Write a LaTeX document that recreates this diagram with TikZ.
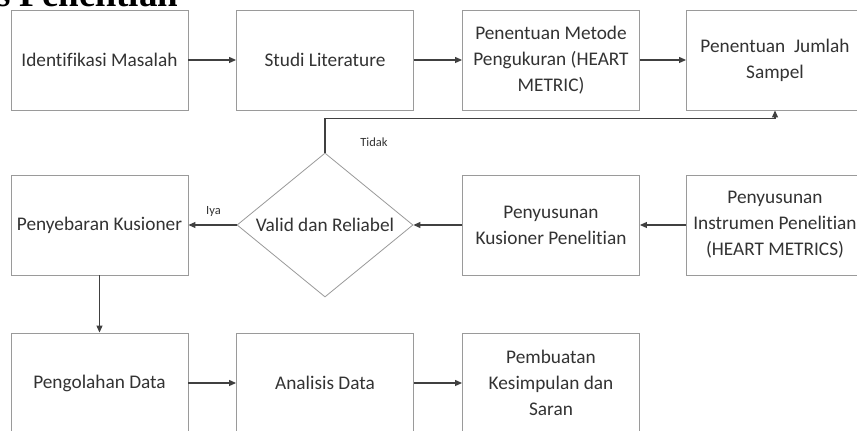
\documentclass[tikz,border=0pt]{standalone}
\usepackage{fontspec}
\setmainfont{Carlito}[Ligatures=NoCommon]
\newfontfamily\titlefont{Liberation Serif}
\usepackage{tikz}
\usetikzlibrary{shapes.geometric,arrows.meta,positioning}

\definecolor{boxline}{HTML}{9A9A9A}
\definecolor{wire}{HTML}{404040}
\definecolor{ink}{HTML}{333333}

\begin{document}
\begin{tikzpicture}[x=1pt,y=1pt,
	stepbox/.style={draw=boxline,fill=white,line width=0.9pt,minimum width=177pt,minimum height=100pt,
		align=center,text=ink,inner sep=0pt,font=\fontsize{19.3}{26}\selectfont},
	check/.style={diamond,draw=boxline,fill=white,line width=0.8pt,minimum width=176pt,minimum height=144pt,
		aspect=1.22,inner sep=0pt,text=ink,font=\fontsize{19.3}{26}\selectfont},
	flow/.style={draw=wire,line width=1.1pt,-{Triangle[length=7pt,width=6pt]}},
	answer/.style={text=ink,inner sep=0pt,font=\fontsize{12.5}{14}\selectfont}]
\useasboundingbox (0,0) rectangle (857,431);
\clip (0,0) rectangle (857,431);
\fill[white] (0,0) rectangle (857,431); % page

\node[anchor=base west,inner sep=0pt,font=\titlefont\bfseries\fontsize{37}{42}\selectfont] (judul) at (-4,424) {s Penelitian}; % cut heading

% first row
\node[stepbox] (identifikasi) at (99.5,371) {Identifikasi Masalah};
\node[stepbox] (studi) at (325,371) {Studi Literature};
\node[stepbox] (metode) at (551,371) {Penentuan Metode\\Pengukuran (HEART\\METRIC)};
\node[stepbox] (jumlah) at (775,371) {Penentuan\ \ Jumlah\\Sampel};

% second row
\node[stepbox] (penyebaran) at (99.5,206) {Penyebaran Kusioner};
\node[check] (valid) at (325,206) {Valid dan Reliabel};
\node[stepbox] (kusioner) at (551,206) {Penyusunan\\Kusioner Penelitian};
\node[stepbox] (instrumen) at (775,206) {Penyusunan\\Instrumen Penelitian\\(HEART METRICS)};

% third row
\node[stepbox] (pengolahan) at (99.5,48) {Pengolahan Data};
\node[stepbox] (analisis) at (325,48) {Analisis Data};
\node[stepbox] (kesimpulan) at (551,48) {Pembuatan\\Kesimpulan dan\\Saran};

% connectors
\draw[flow] (identifikasi) -- (studi);
\draw[flow] (studi) -- (metode);
\draw[flow] (metode) -- (jumlah);
\draw[flow] (instrumen) -- (kusioner);
\draw[flow] (kusioner) -- (valid);
\draw[flow] (valid) -- (penyebaran);
\draw[flow] (penyebaran) -- (pengolahan);
\draw[flow] (pengolahan) -- (analisis);
\draw[flow] (analisis) -- (kesimpulan);
\draw[flow] (valid.north) -- ++(0,34) coordinate (balik) -| (jumlah.south); % back to sample size

\node[answer] (tidak) at (374,289) {Tidak};
\node[answer] (iya) at (213.5,219) {Iya};
\end{tikzpicture}
\end{document}
